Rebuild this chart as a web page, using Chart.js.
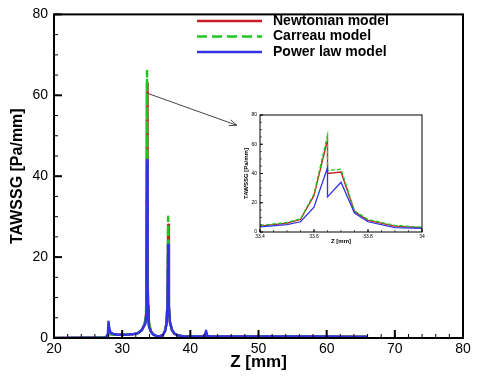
<!DOCTYPE html>
<html><head><meta charset="utf-8">
<script src="https://cdn.jsdelivr.net/npm/chart.js@4.4.0/dist/chart.umd.min.js"></script>
<style>
html,body{margin:0;padding:0;background:#fff;}
#wrap{position:relative;width:480px;height:377px;}
canvas{position:absolute;}
</style>
</head><body>
<div id="wrap">
<canvas id="main" width="480" height="377" style="left:0;top:0"></canvas>
<canvas id="inset" width="196" height="144" style="left:234px;top:106px"></canvas>
</div>
<script>
// ---- data ----
const seriesNames = ['Newtonian model', 'Carreau model', 'Power law model'];
const seriesColors = ['#c81e28', '#1ec81e', '#3232e6'];

const zMain = [20, 27.6, 27.9, 28.0, 28.1, 28.3, 28.7, 29.5, 30.5, 31.5, 32.3, 32.9, 33.2, 33.4, 33.5, 33.55, 33.6, 33.65, 33.7, 33.75, 33.8, 33.9, 34.0, 34.2, 34.5, 35.0, 35.5, 36.0, 36.3, 36.5, 36.65, 36.75, 36.85, 37.0, 37.3, 37.7, 38.3, 39, 40, 41, 42.1, 42.3, 42.5, 43, 45, 48, 51, 54, 57, 60, 63, 66];
const newtonMain = [0, 0.1, 0.4, 1.2, 1.5, 1.0, 0.8, 0.8, 0.8, 0.9, 1.2, 2.0, 3.0, 4, 6, 8.5, 25, 63, 41, 14, 8, 4, 3, 1.8, 1.0, 0.5, 0.4, 0.8, 1.8, 3.5, 8, 28, 8, 4, 2, 1.0, 0.6, 0.4, 0.4, 0.4, 0.4, 1.0, 0.5, 0.4, 0.4, 0.4, 0.4, 0.35, 0.35, 0.35, 0.3, 0.3];
const carreauMain = [0, 0.1, 0.4, 1.2, 1.5, 1.0, 0.8, 0.8, 0.8, 0.9, 1.2, 2.0, 3.0, 4.5, 6.5, 9, 26, 66, 43, 14.5, 8.5, 4.5, 3.2, 1.9, 1.0, 0.5, 0.4, 0.8, 1.8, 3.6, 8.5, 30, 8.5, 4, 2, 1.0, 0.6, 0.4, 0.4, 0.4, 0.4, 1.0, 0.5, 0.4, 0.4, 0.4, 0.4, 0.35, 0.35, 0.35, 0.3, 0.3];
const powerMain = [0, 0.1, 1.0, 4.0, 2.5, 1.3, 1.0, 0.8, 0.8, 0.9, 1.2, 2.0, 3.0, 3.5, 5, 7, 17, 44, 34, 13, 7, 3, 2.5, 1.6, 0.9, 0.5, 0.4, 0.8, 1.8, 3.5, 8, 23, 8, 4, 2, 1.0, 0.6, 0.4, 0.4, 0.4, 0.4, 1.8, 0.5, 0.4, 0.4, 0.4, 0.4, 0.35, 0.35, 0.35, 0.3, 0.3];
const xTicksMain = [20, 30, 40, 50, 60, 70, 80];
const yTicksMain = [0, 20, 40, 60, 80];

const zInset = [33.4, 33.5, 33.55, 33.6, 33.65, 33.65, 33.7, 33.75, 33.8, 33.9, 34.0];
const newtonInset = [4, 6, 8.5, 25, 63, 40, 41, 14, 8, 4, 3];
const carreauInset = [4.5, 6.5, 9, 26, 66, 42, 43, 14.5, 8.5, 4.5, 3.2];
const powerInset = [3.5, 5, 7, 17, 44, 24, 34, 13, 7, 3, 2.5];
const xTicksInset = [33.4, 33.6, 33.8, 34];
const yTicksInset = [0, 20, 40, 60, 80];

// ---- setup ----
Chart.defaults.font.family = "'Liberation Sans', Arial, sans-serif";
Chart.defaults.color = '#000';

function pts(xs, ys) { return xs.map((x, i) => ({x: x, y: ys[i]})); }

const framePlugin = {
  id: 'frame',
  afterDraw(chart, args, o) {
    const {ctx, chartArea: a} = chart;
    const x = chart.scales.x, y = chart.scales.y;
    ctx.save();
    ctx.strokeStyle = '#000';
    const tick = (axis, step, len, width) => {
      const sc = axis === 'x' ? x : y;
      const n = Math.round((sc.max - sc.min) / step);
      ctx.lineWidth = width;
      for (let i = 0; i <= n; i++) {
        const v = sc.min + i * step;
        const p = sc.getPixelForValue(v);
        ctx.beginPath();
        if (axis === 'x') { ctx.moveTo(p, a.bottom); ctx.lineTo(p, a.bottom - len); }
        else { ctx.moveTo(a.left, p); ctx.lineTo(a.left + len, p); }
        ctx.stroke();
      }
    };
    tick('x', o.xMinor, o.minorLen, o.minorW);
    tick('y', o.yMinor, o.minorLen, o.minorW);
    tick('x', o.xMajor, o.majorLen, o.majorW);
    tick('y', o.yMajor, o.majorLen, o.majorW);
    ctx.lineWidth = o.border;
    ctx.strokeRect(a.left, a.top, a.right - a.left, a.bottom - a.top);
    ctx.restore();
  }
};

const legendPlugin = {
  id: 'customLegend',
  afterDraw(chart, args, o) {
    if (!o.show) return;
    const ctx = chart.ctx;
    ctx.save();
    chart.data.datasets.forEach((ds, i) => {
      const yy = o.y0 + i * o.dy;
      ctx.strokeStyle = ds.borderColor;
      ctx.lineWidth = 2.5;
      ctx.setLineDash(ds.borderDash && ds.borderDash.length ? [10, 5] : []);
      ctx.beginPath(); ctx.moveTo(o.x0, yy); ctx.lineTo(o.x1, yy); ctx.stroke();
      ctx.setLineDash([]);
      ctx.fillStyle = '#000';
      ctx.font = "bold 14px 'Liberation Sans', Arial, sans-serif";
      ctx.textBaseline = 'middle';
      ctx.fillText(ds.label, o.tx, yy);
    });
    ctx.restore();
  }
};

const arrowPlugin = {
  id: 'arrow',
  afterDraw(chart, args, o) {
    if (!o.show) return;
    const {ctx} = chart;
    const x = chart.scales.x, y = chart.scales.y;
    const x0 = x.getPixelForValue(o.from[0]), y0 = y.getPixelForValue(o.from[1]);
    const x1 = x.getPixelForValue(o.to[0]), y1 = y.getPixelForValue(o.to[1]);
    ctx.save();
    ctx.strokeStyle = '#444';
    ctx.lineWidth = 1;
    ctx.beginPath(); ctx.moveTo(x0, y0); ctx.lineTo(x1, y1); ctx.stroke();
    const ang = Math.atan2(y1 - y0, x1 - x0);
    const L = 8;
    ctx.beginPath();
    ctx.moveTo(x1 - L * Math.cos(ang - 0.4), y1 - L * Math.sin(ang - 0.4));
    ctx.lineTo(x1, y1);
    ctx.lineTo(x1 - L * Math.cos(ang + 0.4), y1 - L * Math.sin(ang + 0.4));
    ctx.stroke();
    ctx.restore();
  }
};

function makeDatasets(xs, a, b, c, lw, dash) {
  return [
    {label: seriesNames[0], data: pts(xs, a), borderColor: seriesColors[0], borderWidth: lw, order: 3},
    {label: seriesNames[1], data: pts(xs, b), borderColor: seriesColors[1], borderWidth: lw, borderDash: dash, order: 2},
    {label: seriesNames[2], data: pts(xs, c), borderColor: seriesColors[2], borderWidth: lw, order: 1}
  ];
}

// ---- main chart ----
new Chart(document.getElementById('main'), {
  type: 'line',
  data: {datasets: makeDatasets(zMain, newtonMain, carreauMain, powerMain, 2.5, [10, 4])},
  options: {
    responsive: false, animation: false, devicePixelRatio: 1,
    layout: {padding: {top: 8, right: 17, left: 0, bottom: 0}},
    elements: {point: {radius: 0}, line: {tension: 0, borderJoinStyle: 'round'}},
    plugins: {
      legend: {display: false}, tooltip: {enabled: false},
      frame: {xMajor: 10, xMinor: 2, yMajor: 20, yMinor: 5, majorLen: 8, minorLen: 4, majorW: 2, minorW: 1, border: 2},
      customLegend: {show: true, x0: 197, x1: 262, tx: 273, y0: 21, dy: 15.5},
      arrow: {show: true, from: [33.7, 60.5], to: [46.8, 52.6]}
    },
    scales: {
      x: {
        type: 'linear', min: 20, max: 80,
        afterBuildTicks: s => { s.ticks = xTicksMain.map(v => ({value: v})); },
        ticks: {font: {size: 14}, padding: 3, maxRotation: 0, color: '#000'},
        grid: {display: false, drawTicks: false}, border: {display: false},
        title: {display: true, text: 'Z [mm]', font: {size: 17, weight: 'bold'}, color: '#000', padding: {top: 0, bottom: 4}},
        afterFit: s => { s.height = 39; }
      },
      y: {
        type: 'linear', min: 0, max: 80,
        afterBuildTicks: s => { s.ticks = yTicksMain.map(v => ({value: v})); },
        ticks: {font: {size: 14}, padding: 6, color: '#000'},
        grid: {display: false, drawTicks: false}, border: {display: false},
        title: {display: true, text: 'TAWSSG [Pa/mm]', font: {size: 16, weight: 'bold'}, color: '#000', padding: {top: 8, bottom: 0}},
        afterFit: s => { s.width = 54; }
      }
    }
  },
  plugins: [framePlugin, legendPlugin, arrowPlugin]
});

// ---- inset chart ----
new Chart(document.getElementById('inset'), {
  type: 'line',
  data: {datasets: makeDatasets(zInset, newtonInset, carreauInset, powerInset, 1.3, [4, 2])},
  options: {
    responsive: false, animation: false, devicePixelRatio: 1,
    layout: {padding: {top: 9, right: 8, left: 0, bottom: 0}},
    elements: {point: {radius: 0}, line: {tension: 0}},
    plugins: {
      legend: {display: false}, tooltip: {enabled: false},
      frame: {xMajor: 0.2, xMinor: 0.05, yMajor: 20, yMinor: 5, majorLen: 3, minorLen: 2, majorW: 1, minorW: 0.6, border: 1},
      customLegend: {show: false}, arrow: {show: false}
    },
    scales: {
      x: {
        type: 'linear', min: 33.4, max: 34,
        afterBuildTicks: s => { s.ticks = xTicksInset.map(v => ({value: v})); },
        ticks: {font: {size: 5}, padding: 2, maxRotation: 0, color: '#000', callback: v => String(+v.toFixed(1))},
        grid: {display: false, drawTicks: false}, border: {display: false},
        title: {display: true, text: 'Z [mm]', font: {size: 6, weight: 'bold'}, color: '#000', padding: {top: 0, bottom: 5}},
        afterFit: s => { s.height = 18; }
      },
      y: {
        type: 'linear', min: 0, max: 80,
        afterBuildTicks: s => { s.ticks = yTicksInset.map(v => ({value: v})); },
        ticks: {font: {size: 5}, padding: 3, color: '#000'},
        grid: {display: false, drawTicks: false}, border: {display: false},
        title: {display: true, text: 'TAWSSG [Pa/mm]', font: {size: 6, weight: 'bold'}, color: '#000', padding: {top: 9, bottom: 0}},
        afterFit: s => { s.width = 26; }
      }
    }
  },
  plugins: [framePlugin]
});
</script>
</body></html>
